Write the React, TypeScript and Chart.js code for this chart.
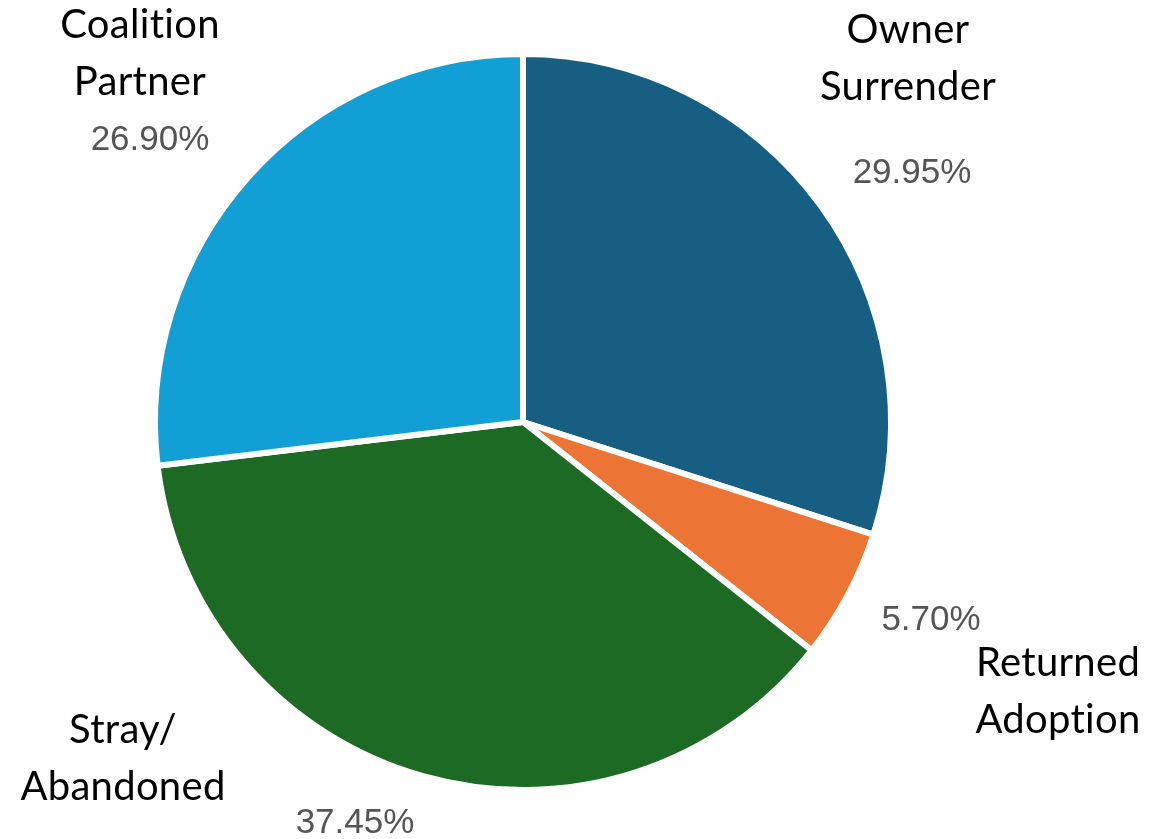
import React, { useEffect, useRef } from "react";
import { Chart, registerables } from "chart.js";

Chart.register(...registerables);

const categories = ["Owner Surrender", "Returned Adoption", "Stray/Abandoned", "Coalition Partner"];
const nameLines = [["Owner", "Surrender"], ["Returned", "Adoption"], ["Stray/", "Abandoned"], ["Coalition", "Partner"]];
const values = [29.95, 5.7, 37.45, 26.9];
const pctLabels = ["29.95%", "5.70%", "37.45%", "26.90%"];
const colors = ["#165E82", "#EC7434", "#1C6A24", "#129FD6"];

// label placement relative to pie centre (px)
const namePos = [[385, -392], [535, 241], [-400, 308], [-383, -397]];
const pctPos = [[389, -249], [408, 198], [-168, 401], [-373, -282]];

const labelPlugin = {
  id: "outerLabels",
  afterDraw(chart: any) {
    const meta = chart.getDatasetMeta(0);
    const arc = meta.data[0];
    if (!arc) return;
    const cx = arc.x;
    const cy = arc.y;
    const ctx = chart.ctx;
    ctx.save();
    ctx.textAlign = "center";
    ctx.textBaseline = "middle";
    try { (ctx as any).textRendering = "optimizeSpeed"; } catch (e) {}
    categories.forEach((_, i) => {
      ctx.fillStyle = "#000";
      ctx.font = '40px Lato';
      try { (ctx as any).letterSpacing = "0.3px"; } catch (e) {}
      nameLines[i].forEach((line, j) => {
        ctx.fillText(line, cx + namePos[i][0], cy + namePos[i][1] + j * 57);
      });
      try { (ctx as any).letterSpacing = "0px"; } catch (e) {}
      ctx.fillStyle = "#555555";
      ctx.font = '35px "Liberation Sans"';
      ctx.fillText(pctLabels[i], cx + pctPos[i][0], cy + pctPos[i][1]);
    });
    ctx.restore();
  },
};

export default function App() {
  const ref = useRef<HTMLCanvasElement | null>(null);
  useEffect(() => {
    if (!ref.current) return;
    const chart = new Chart(ref.current, {
      type: "pie",
      data: {
        labels: categories,
        datasets: [
          {
            data: values,
            backgroundColor: colors,
            borderColor: "#ffffff",
            borderWidth: 6,
          },
        ],
      },
      options: {
        responsive: false,
        animation: false,
        layout: { padding: { top: 51, bottom: 46, left: 152, right: 259 } },
        plugins: { legend: { display: false }, tooltip: { enabled: false } },
      },
      plugins: [labelPlugin],
    });
    return () => chart.destroy();
  }, []);
  return (
    <div style={{ position: "absolute", left: 0, top: 0, width: 1153, height: 839, background: "#fff" }}>
      <canvas ref={ref} width={1153} height={839} style={{ display: "block" }} />
    </div>
  );
}
